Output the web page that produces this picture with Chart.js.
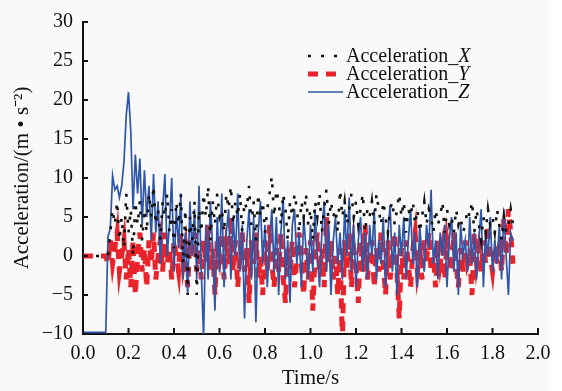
<!DOCTYPE html>
<html>
<head>
<meta charset="utf-8">
<script src="https://cdn.jsdelivr.net/npm/chart.js@4"></script>
<style>
  html, body { margin: 0; padding: 0; background: #fff; }
  #wrap { width: 562px; height: 391px; }
</style>
</head>
<body>
<div id="wrap"><canvas id="c" width="562" height="391"></canvas></div>
<script>
// sampling step of the record (s)
const dt = 0.01

// Acceleration_X (black dotted), one value per 0.01 s from 0.00 s
const accX = [
  0, 0, 0, 0, 0, 0, 0, 0, 0, 0,
  0, 0, 3, 6, 4, 7, 2, 5, 1, 8,
  3, 6, 0, 7, 4, 7, 2, 6, 3, 8,
  5, 9, 4, 6, 2, 7, 5, 8, 3, 6,
  1, 7, 4, 8, -1, 6, -5, 5, 2, 7,
  -5, 6, 3, 8, 5, 9, 2, 7, 4, 8,
  5, 6, 3, 8, 6, 9, 4, 7, 5, 8,
  3, 7, 6, 9, 4, 7, 2, 8, 5, 7,
  3, 6, 8, 10.2, 5, 8.5, 7, 4, 8, 6,
  2, 7, 5, 8, 6, 3, 7, 5, 8, 4,
  6, 2, 7, 5, 8, 3, 6, 8.5, 4, 7,
  5, 6, 3, 8.5, 5, 7, 4, 6, 8, 5,
  7, 4, 6, 8, 3, 6, 5, 7, 4, 8,
  6, 4, 7, 5, 3, 6, 7, 4, 6, 8,
  5, 7, 3, 6, 5, 7, 4, 6, 3, 5,
  7, 4, 6, 5, 3, 6, 4, 5, 7, 3,
  6, 4, 5, 3, 6, 4, 5, 3, 4, 6,
  5, 7, 3, 6, 4, 2, 5, 3, 6, 4,
  5, 3, 6, 4, 2, 5, 3, 4, 6, 4
]

// Acceleration_Y (red dashed)
const accY = [
  0, 0, 0, 0, 0, 0, 0, 0, 0, 0,
  0, -1, 2, -1, 1, 3, -2, 0, 2, -3,
  1, -4, 2, -5, 0, 3, -2, 1, -4, 2,
  -1, 3, -3, 0, 2, -2, 3, -1, 1, -3,
  2, 0, -2, 3, -1, 1, -4, 2, 0, 3,
  -2, 1, -3, 2, -1, 4, -2, 1, -5, 2,
  0, 3, -3, 1, -1, 5, -2, 2, -4, 0,
  3, -2, 1, -6, 2, -1, 3, -3, 0, -5,
  2, -2, 4, -1, -4, 1, -2, 3, -3, -6,
  1, -2, 2, -4, 0, 3, -1, -5, 1, -3,
  2, -7, 0, 3, -2, 1, -4, 5, -1, 2,
  -3, 0, -5, 1, -11, 2, -2, 3, -4, 1,
  -1, -6, 2, -2, 4, -3, 0, 2, -4, 1,
  -2, 3, -1, -5, 2, -3, 0, 3, -2, -8,
  1, -3, 2, -1, -4, 1, 3, -2, 0, -3,
  2, -1, 3, -2, 0, -4, 2, -1, 1, -3,
  2, 0, -2, 3, -1, -4, 1, -2, 2, -1,
  0, -5, 3, -1, 1, -2, 2, -1, 4, 0,
  -2, 1, -1, 2, -2, 5, 0, 6, 3, -1
]

// Acceleration_Z (blue solid)
const accZ = [
  -9.8, -9.8, -9.8, -9.8, -9.8, -9.8, -9.8, -9.8, -9.8, -9.8,
  -9.8, 2.5, 3.5, 10.3, 8.5, 9, 7.5, 9, 12, 18,
  21, 16, 6, 13, 8, 12.5, 4, 11, 5, 9,
  2, 10.5, 3, 7, -1, 6, 10.5, 0, 4, 10,
  -2, 6, 1, 8, -3, 3, -5, 7, 0, 6,
  -3, 9, -2, -10.5, 4, -3, 7, 1, -7, 5,
  -2, 8, -4, 3, 6, -3, 5, 0, 8, -2,
  4, -8, 2, 6, -3, 5, -8.5, 3, 7, -1,
  4, -4, 2, 6, -2, 5, -5, 3, 7.5, -3,
  2, -6, 4, 6, -1, 3, -4, 5, 1, -3,
  4, -2, 6, 0, -4, 3, 7, -2, 4, -5,
  2, 5, -1, 3, -3, 6, 0, 7.5, -2, 4,
  -4, 2, 5, -2, 3, -3, 4, 0, 6, -3,
  2, -1, 5, -4, 3, 6.5, -2, 3, -5, 4,
  0, 5, -3, 2, 6, -1, 3, -4, 4, 0,
  -2, 4, 1, 8.5, -1, 2, -3, 3, 0, 4,
  -4, 2, 5, -2, 3, -5, 4, 0, 2, -2,
  5, -1, 3, -3, 2, 6, -4, 3, 0, 5,
  -2, 2, -1, 4, -3, 6, 0, -5, 3, 2
]

const xTicks = [0, 0.2, 0.4, 0.6, 0.8, 1.0, 1.2, 1.4, 1.6, 1.8, 2.0]
const yTicks = [-10, -5, 0, 5, 10, 15, 20, 25, 30]

const SERIF = "'Liberation Serif', 'Times New Roman', serif"

const toPoints = arr => arr.map((v, i) => ({ x: +(i * dt).toFixed(2), y: v }))

const series = [
  { label: "Acceleration_", tag: "X", data: accX, color: "#111111", width: 2.6, dash: [3, 10], order: 0 },
  { label: "Acceleration_", tag: "Y", data: accY, color: "#e8232b", width: 5, dash: [10, 8], order: 2 },
  { label: "Acceleration_", tag: "Z", data: accZ, color: "#2f56a8", width: 1.7, dash: [], order: 1 }
]

// gray paper behind the figure
const paper = {
  id: "paper",
  beforeDraw(chart) {
    const ctx = chart.ctx
    ctx.save()
    ctx.fillStyle = "#f9f9f9"
    ctx.fillRect(0, 0, 548, chart.height)
    ctx.restore()
  }
}

// tick marks pointing into the plot
const innerTicks = {
  id: "innerTicks",
  afterDatasetsDraw(chart) {
    const { ctx, chartArea, scales } = chart
    ctx.save()
    ctx.strokeStyle = "#111"
    ctx.lineWidth = 2
    ctx.beginPath()
    xTicks.forEach(v => {
      const px = scales.x.getPixelForValue(v)
      ctx.moveTo(px, chartArea.bottom)
      ctx.lineTo(px, chartArea.bottom - 6)
    })
    yTicks.forEach(v => {
      const py = scales.y.getPixelForValue(v)
      ctx.moveTo(chartArea.left, py)
      ctx.lineTo(chartArea.left + 5, py)
    })
    ctx.stroke()
    ctx.restore()
  }
}

// legend with italic axis letter
const legendBox = {
  id: "legendBox",
  afterDraw(chart) {
    const ctx = chart.ctx
    ctx.save()
    series.forEach((s, i) => {
      const y = 56 + i * 18
      ctx.strokeStyle = s.color
      ctx.lineWidth = s.width
      ctx.setLineDash(s.dash)
      ctx.beginPath()
      ctx.moveTo(308, y)
      ctx.lineTo(343, y)
      ctx.stroke()
      ctx.setLineDash([])
      ctx.fillStyle = "#111"
      ctx.textBaseline = "middle"
      ctx.font = "20px " + SERIF
      ctx.fillText(s.label, 346, y + 1)
      const w = ctx.measureText(s.label).width
      ctx.font = "italic 20px " + SERIF
      ctx.fillText(s.tag, 346 + w, y + 1)
    })
    ctx.restore()
  }
}

new Chart(document.getElementById("c"), {
  type: "line",
  data: {
    datasets: series.map(s => ({
      label: s.label + s.tag,
      data: toPoints(s.data),
      borderColor: s.color,
      borderWidth: s.width,
      borderDash: s.dash,
      pointRadius: 0,
      tension: 0,
      fill: false,
      order: s.order
    }))
  },
  options: {
    responsive: false,
    animation: false,
    layout: { padding: { left: 4, top: 15, right: 24, bottom: 0 } },
    plugins: {
      legend: { display: false },
      tooltip: { enabled: false }
    },
    scales: {
      x: {
        type: "linear",
        min: 0,
        max: 2,
        afterBuildTicks: s => { s.ticks = xTicks.map(v => ({ value: v })) },
        afterFit: s => { s.height = 57 },
        grid: { display: false, drawTicks: false },
        border: { display: true, color: "#111", width: 2 },
        ticks: {
          padding: 8,
          color: "#111",
          font: { family: SERIF, size: 20 },
          maxRotation: 0,
          callback: v => v.toFixed(1)
        },
        title: {
          display: true,
          text: "Time/s",
          color: "#111",
          font: { family: SERIF, size: 21 },
          padding: { top: 0, bottom: 0 }
        }
      },
      y: {
        min: -10,
        max: 30,
        afterBuildTicks: s => { s.ticks = yTicks.map(v => ({ value: v })) },
        afterFit: s => { s.width = 79 },
        grid: { display: false, drawTicks: false },
        border: { display: true, color: "#111", width: 2 },
        ticks: {
          padding: 10,
          color: "#111",
          font: { family: SERIF, size: 20 },
          callback: v => v < 0 ? "\u2212" + Math.abs(v) : String(v)
        },
        title: {
          display: true,
          text: "Acceleration/(m \u2022 s\u207B\u00B2)",
          color: "#111",
          font: { family: SERIF, size: 21 },
          padding: { top: 6, bottom: 0 }
        }
      }
    }
  },
  plugins: [paper, innerTicks, legendBox]
})
</script>
</body>
</html>
